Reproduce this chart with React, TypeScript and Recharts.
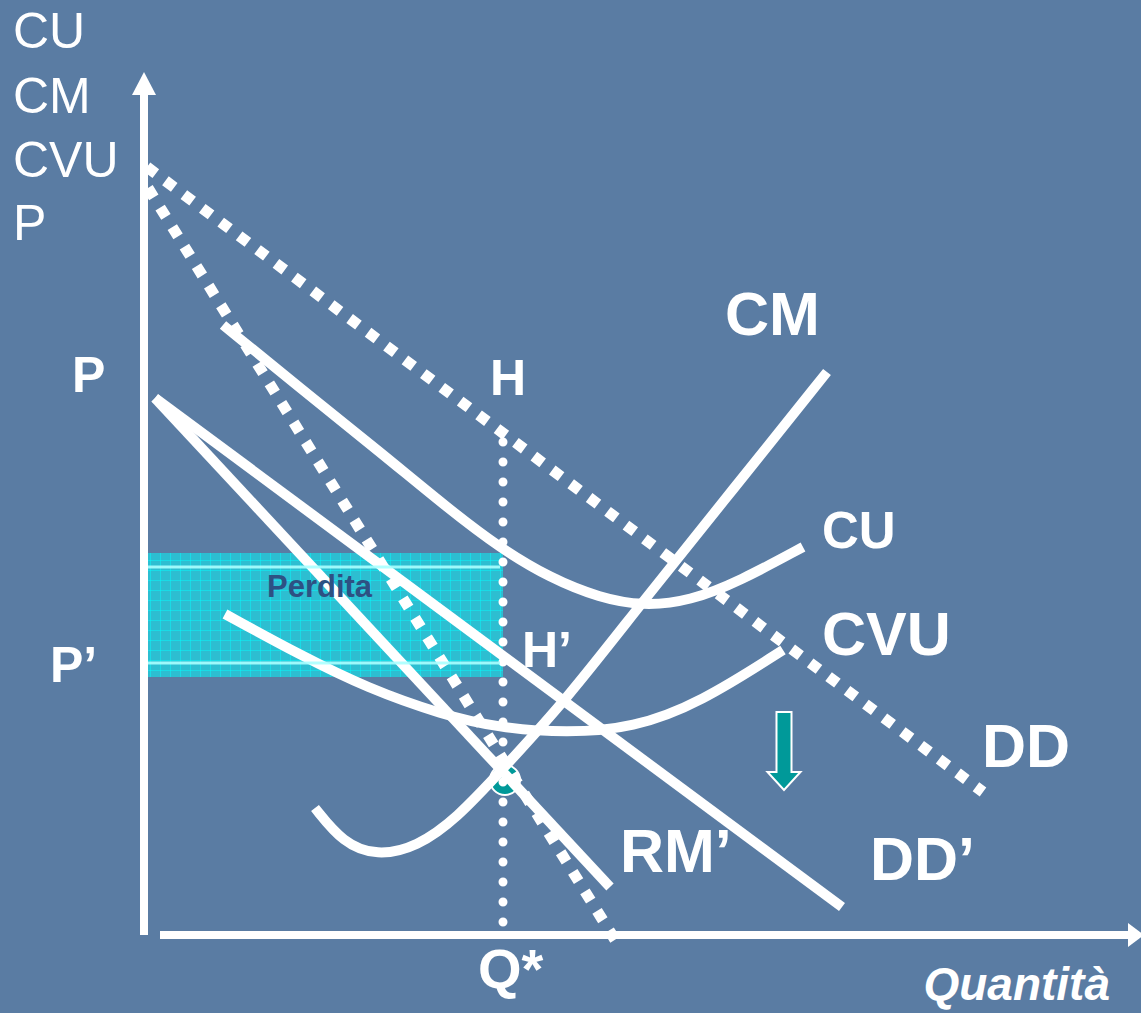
import { ComposedChart, Line, XAxis, YAxis, ReferenceArea, ReferenceLine, ReferenceDot } from 'recharts'

const FONT = '"Liberation Sans", Arial, Helvetica, sans-serif'
const BG = '#5a7ca3'
const TEAL = '#009999'
const W = 1141
const H = 1013
const Q_DOMAIN = [-14.4, 99.7]
const P_DOMAIN = [-7.8, 93.5]

// axes (quantity on x, price / costs on y)
const yAxisLine = [{ q: 0, p: 0 }, { q: 0, p: 84 }]
const xAxisLine = [{ q: 1.6, p: 0 }, { q: 98.4, p: 0 }]

// old demand and marginal revenue (dotted)
const demandDD = [{ q: 0.3, p: 76.8 }, { q: 83.9, p: 14.3 }]
const revenueRM = [{ q: 0.4, p: 74.7 }, { q: 47.3, p: -0.8 }]

// new demand and marginal revenue (solid)
const demandDD2 = [{ q: 1.1, p: 53.7 }, { q: 69.8, p: 2.8 }]
const revenueRM2 = [{ q: 1.1, p: 53.7 }, { q: 46.6, p: 4.8 }]

// cost curves
const costCU = [
  { q: 7.9, p: 61.0 }, { q: 15.6, p: 54.7 }, { q: 23.6, p: 48.3 }, { q: 30.6, p: 42.5 },
  { q: 35.6, p: 38.7 }, { q: 40.6, p: 35.7 }, { q: 45.6, p: 33.7 }, { q: 49.9, p: 32.9 },
  { q: 54.6, p: 33.4 }, { q: 59.6, p: 35.4 }, { q: 65.9, p: 38.8 },
]
const costCVU = [
  { q: 8.1, p: 32.1 }, { q: 15.6, p: 28.0 }, { q: 22.3, p: 24.7 }, { q: 29.9, p: 22.0 },
  { q: 35.6, p: 20.7 }, { q: 42.3, p: 20.2 }, { q: 48.9, p: 20.7 }, { q: 55.6, p: 23.2 },
  { q: 63.9, p: 28.5 },
]
const costCM = [
  { q: 17.1, p: 12.7 }, { q: 19.9, p: 9.2 }, { q: 23.3, p: 7.9 }, { q: 27.3, p: 8.8 },
  { q: 31.3, p: 11.7 }, { q: 35.6, p: 16.3 }, { q: 42.3, p: 23.6 }, { q: 49.6, p: 33.0 },
  { q: 59.1, p: 44.8 }, { q: 68.3, p: 56.3 },
]

// Q* guide from H down to the axis, and the optimum point
const guideH = [{ q: 35.9, p: 49.3 }, { q: 35.9, p: 0.8 }]
const equilibrium = [{ q: 36.1, p: 15.5 }]

// loss rectangle: from 0 to Q*, between P' and unit cost
const lossQ = [-0.1, 35.9]
const lossP = [25.8, 38.2]
const lossInner = [36.8, 27.2]

const labels = [
  { q: -13.1, p: 88.7, text: 'CU', kind: 'axis' },
  { q: -13.1, p: 82.2, text: 'CM', kind: 'axis' },
  { q: -13.1, p: 75.8, text: 'CVU', kind: 'axis' },
  { q: -13.1, p: 69.5, text: 'P', kind: 'axis' },
  { q: -7.2, p: 54.3, text: 'P', kind: 'mid' },
  { q: -9.4, p: 25.3, text: 'P\u2019', kind: 'mid' },
  { q: 34.6, p: 54.0, text: 'H', kind: 'mid' },
  { q: 37.8, p: 26.8, text: 'H\u2019', kind: 'mid' },
  { q: 12.3, p: 33.8, text: 'Perdita', kind: 'loss' },
  { q: 58.1, p: 60.0, text: 'CM', kind: 'big' },
  { q: 67.8, p: 38.7, text: 'CU', kind: 'small' },
  { q: 67.8, p: 28.0, text: 'CVU', kind: 'big' },
  { q: 83.8, p: 16.8, text: 'DD', kind: 'big' },
  { q: 72.6, p: 5.5, text: 'DD\u2019', kind: 'big' },
  { q: 47.6, p: 6.3, text: 'RM\u2019', kind: 'big' },
  { q: 33.4, p: -5.3, text: 'Q*', kind: 'q' },
  { q: 96.6, p: -6.5, text: 'Quantit\u00e0', kind: 'title' },
]

const labelStyle: Record<string, any> = {
  axis: { fontSize: 50, fontWeight: 400, fill: '#fff' },
  mid: { fontSize: 50, fontWeight: 700, fill: '#fff' },
  loss: { fontSize: 31, fontWeight: 700, fill: '#2d5183' },
  big: { fontSize: 61, fontWeight: 700, fill: '#fff' },
  small: { fontSize: 51, fontWeight: 700, fill: '#fff' },
  q: { fontSize: 56, fontWeight: 700, fill: '#fff' },
  title: { fontSize: 46, fontWeight: 700, fill: '#fff', fontStyle: 'italic', textAnchor: 'end' },
}

const solid = { stroke: '#fff', strokeWidth: 10, dot: false, activeDot: false, isAnimationActive: false, type: 'linear' as const }
const dotted = { ...solid, strokeWidth: 11, strokeDasharray: '11 12' }
const layer = { position: 'absolute' as const, left: 0, top: 0 }
const noMargin = { top: 0, right: 0, bottom: 0, left: 0 }

export default function App() {
  return (
    <div style={{ ...layer, width: W, height: H, background: BG, overflow: 'hidden' }}>
      {/* bottom layer: the optimum point, so the curves cross over it */}
      <div style={layer}>
        <ComposedChart width={W} height={H} margin={noMargin}>
          <XAxis type="number" dataKey="q" domain={Q_DOMAIN} hide allowDataOverflow />
          <YAxis type="number" dataKey="p" domain={P_DOMAIN} hide allowDataOverflow />
          <Line
            data={equilibrium}
            dataKey="p"
            stroke="none"
            isAnimationActive={false}
            activeDot={false}
            dot={{ r: 15, fill: TEAL, stroke: '#fff', strokeWidth: 2 }}
          />
        </ComposedChart>
      </div>

      <div style={layer}>
        <ComposedChart width={W} height={H} margin={noMargin}>
          <defs>
            <pattern id="lossGrid" width="10" height="10" patternUnits="userSpaceOnUse">
              <rect width="10" height="10" fill="rgba(0,255,255,0.5)" />
              <path d="M10 0 L0 0 L0 10" stroke="rgba(0,255,255,0.9)" strokeWidth="1" fill="none" />
            </pattern>
          </defs>
          <XAxis type="number" dataKey="q" domain={Q_DOMAIN} hide allowDataOverflow />
          <YAxis type="number" dataKey="p" domain={P_DOMAIN} hide allowDataOverflow />

          <Line data={yAxisLine} dataKey="p" {...solid} strokeWidth={8} />
          <Line data={xAxisLine} dataKey="p" {...solid} strokeWidth={8} />

          <Line data={demandDD} dataKey="p" {...dotted} />
          <Line data={revenueRM} dataKey="p" {...dotted} />
          <Line data={demandDD2} dataKey="p" {...solid} />
          <Line data={revenueRM2} dataKey="p" {...solid} />
          <Line data={costCU} dataKey="p" {...solid} type="basis" />
          <Line data={costCVU} dataKey="p" {...solid} type="basis" />
          <Line data={costCM} dataKey="p" {...solid} type="basis" />
          <Line data={guideH} dataKey="p" {...solid} strokeWidth={9} strokeDasharray="0 20" strokeLinecap="round" />

          <ReferenceArea x1={lossQ[0]} x2={lossQ[1]} y1={lossP[0]} y2={lossP[1]} fill="url(#lossGrid)" fillOpacity={1} stroke="none" />
          {lossInner.map((p, i) => (
            <ReferenceLine
              key={i}
              segment={[{ x: 0.4, y: p }, { x: 35.6, y: p }]}
              stroke="rgba(170,255,255,0.9)"
              strokeWidth={3}
            />
          ))}

          {/* arrowheads on the axes */}
          <ReferenceDot
            x={0}
            y={86.3}
            shape={(props: any) => (
              <polygon points={`${props.cx},${props.cy} ${props.cx - 12},${props.cy + 23} ${props.cx + 12},${props.cy + 23}`} fill="#fff" />
            )}
          />
          <ReferenceDot
            x={98.4}
            y={0}
            shape={(props: any) => (
              <polygon points={`${props.cx},${props.cy - 12} ${props.cx + 16},${props.cy} ${props.cx},${props.cy + 12}`} fill="#fff" />
            )}
          />

          {/* demand shift arrow */}
          <ReferenceDot
            x={64.0}
            y={14.5}
            shape={(props: any) => {
              const { cx, cy } = props
              const pts = [
                [cx - 7.5, cy - 78], [cx + 7.5, cy - 78], [cx + 7.5, cy - 18], [cx + 16.5, cy - 18],
                [cx, cy], [cx - 16.5, cy - 18], [cx - 7.5, cy - 18],
              ].map((pt) => pt.join(',')).join(' ')
              return <polygon points={pts} fill={TEAL} stroke="#fff" strokeWidth={2} />
            }}
          />

          {labels.map((l, i) => (
            <ReferenceDot
              key={'l' + i}
              x={l.q}
              y={l.p}
              shape={(props: any) => (
                <text x={props.cx} y={props.cy} fontFamily={FONT} textAnchor="start" {...labelStyle[l.kind]}>
                  {l.text}
                </text>
              )}
            />
          ))}
        </ComposedChart>
      </div>
    </div>
  )
}
